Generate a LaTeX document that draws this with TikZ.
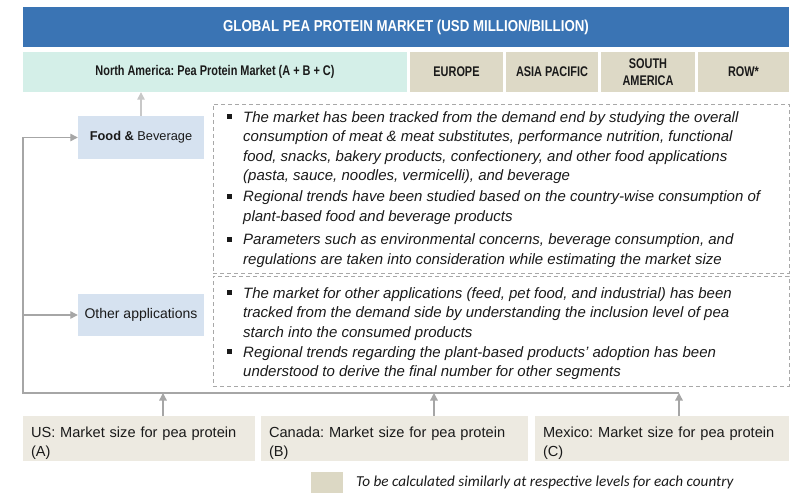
\documentclass[tikz,border=0pt]{standalone}
\usepackage{fontspec}
\setmainfont{Liberation Sans}
\newfontfamily\hdrfont{Liberation Sans}[FakeStretch=0.84]
\newfontfamily\regfont{Liberation Sans}[FakeStretch=0.78]
\newfontfamily\legfont{Carlito}
\usetikzlibrary{arrows.meta}
\frenchspacing
\definecolor{hdrblue}{HTML}{3A74B4}
\definecolor{nateal}{HTML}{D4EFE8}
\definecolor{regbeige}{HTML}{DDD9C6}
\definecolor{appblue}{HTML}{D6E2F0}
\definecolor{ctrybeige}{HTML}{EDEAE1}
\definecolor{leggray}{HTML}{DCD8C4}
\definecolor{linegray}{HTML}{A6A6A6}
\definecolor{arrlight}{HTML}{C8C8C8}
\definecolor{dashgray}{HTML}{A8A8A8}
\definecolor{txt}{HTML}{1A1A1A}
\tikzset{
  x=1pt, y=-1pt,
  fillbox/.style={draw=none, inner sep=0pt, align=center, text=txt},
  regbox/.style={fillbox, fill=regbeige, font=\regfont\bfseries\fontsize{14}{17}\selectfont, minimum height=40pt},
  appbox/.style={fillbox, fill=appblue, minimum width=126pt, minimum height=43pt},
  ctrybox/.style={fillbox, fill=ctrybeige, align=left, minimum height=45pt, inner xsep=8pt,
    font=\fontsize{14.6}{19}\selectfont},
  dashbox/.style={draw=dashgray, line width=0.8pt, dash pattern=on 4pt off 3pt, inner sep=0pt, minimum width=576pt},
  btxt/.style={anchor=north west, inner sep=0pt, align=left, text=txt,
    font=\itshape\fontsize{15}{19.5}\selectfont},
  conn/.style={draw=linegray, line width=1.3pt, -{Triangle[length=7.5pt,width=7.5pt]}},
  connlight/.style={draw=arrlight, line width=1.3pt, -{Triangle[length=7.5pt,width=7.5pt]}},
  bul/.style={fill=txt}
}
\begin{document}
\begin{tikzpicture}
\useasboundingbox (0,0) rectangle (799,498);
% header
\node[fillbox, fill=hdrblue, text=white, minimum width=766pt, minimum height=40pt,
  font=\hdrfont\bfseries\fontsize{15.8}{18}\selectfont] (hdr) at (406,27) {GLOBAL PEA PROTEIN MARKET (USD MILLION/BILLION)};
% regions
\node[regbox, fill=nateal, minimum width=384pt] (NA) at (215,72) {North America: Pea Protein Market (A + B + C)};
\node[regbox, minimum width=93pt] (EU) at (456.5,72) {EUROPE};
\node[regbox, minimum width=92pt] (AP) at (552,72) {ASIA PACIFIC};
\node[regbox, minimum width=94pt] (SA) at (648,72) {SOUTH\\AMERICA};
\node[regbox, minimum width=91pt] (ROW) at (743.5,72) {ROW*};
% applications
\node[appbox, font=\fontsize{12.8}{16}\selectfont] (FB) at (141,137.5) {\textbf{Food \&} Beverage};
\node[appbox, minimum height=42pt, font=\fontsize{14}{16}\selectfont] (OA) at (141,315) {Other applications};
% dashed boxes
\node[dashbox, minimum height=169pt] (D1) at (501,188.5) {};
\node[dashbox, minimum height=110pt] (D2) at (501,331) {};
% bullet texts
\node[btxt] (b1) at (243,108.4) {\strut The market has been tracked from the demand end by studying the overall\\consumption of meat \& meat substitutes, performance nutrition, functional\\food, snacks, bakery products, confectionery, and other food applications\\(pasta, sauce, noodles, vermicelli), and beverage};
\node[btxt] (b2) at (243,187.9) {\strut Regional trends have been studied based on the country-wise consumption of\\plant-based food and beverage products};
\node[btxt] (b3) at (243,230.9) {\strut Parameters such as environmental concerns, beverage consumption, and\\regulations are taken into consideration while estimating the market size};
\node[btxt] (b4) at (243,284.4) {\strut The market for other applications (feed, pet food, and industrial) has been\\tracked from the demand side by understanding the inclusion level of pea\\starch into the consumed products};
\node[btxt] (b5) at (243,343.4) {\strut Regional trends regarding the plant-based products’ adoption has been\\understood to derive the final number for other segments};
\foreach \n in {b1,b2,b3,b4,b5}{
  \fill[bul] ([xshift=-16pt,yshift=-6pt]\n.north west) rectangle ++(5,5);
}
% countries
\node[ctrybox, minimum width=232pt, text width=216pt] (US) at (139,438.5) {\rule{0pt}{19.3pt}US: Market size for pea protein\\(A)};
\node[ctrybox, minimum width=267pt, text width=251pt] (CA) at (394.5,438.5) {\rule{0pt}{19.3pt}Canada: Market size for pea protein\\(B)};
\node[ctrybox, minimum width=254pt, text width=238pt] (MX) at (662,438.5) {\rule{0pt}{19.3pt}Mexico: Market size for pea protein\\(C)};
% legend
\node[fillbox, fill=leggray, minimum width=32pt, minimum height=21pt] (leg) at (327,482.5) {};
\node[anchor=west, inner sep=0pt, text=txt, font=\legfont\itshape\fontsize{15.2}{17}\selectfont] (legtxt) at (356,482.5) {To be calculated similarly at respective levels for each country};
% connectors
\coordinate (cA) at (163,393);
\coordinate (cB) at (434,393);
\coordinate (cC) at (679,393);
\coordinate (cL) at (23,393);
\draw[conn] (US.north -| cA) -- (cA);
\draw[conn] (CA.north -| cB) -- (cB);
\draw[conn] (MX.north -| cC) -- (cC);
\draw[conn] (cC) -- (cL) -- (cL |- FB.west) -- (FB.west);
\draw[conn] (cL |- OA.west) -- (OA.west);
\draw[connlight] (FB.north) -- (FB.north |- NA.south);
\end{tikzpicture}
\end{document}
